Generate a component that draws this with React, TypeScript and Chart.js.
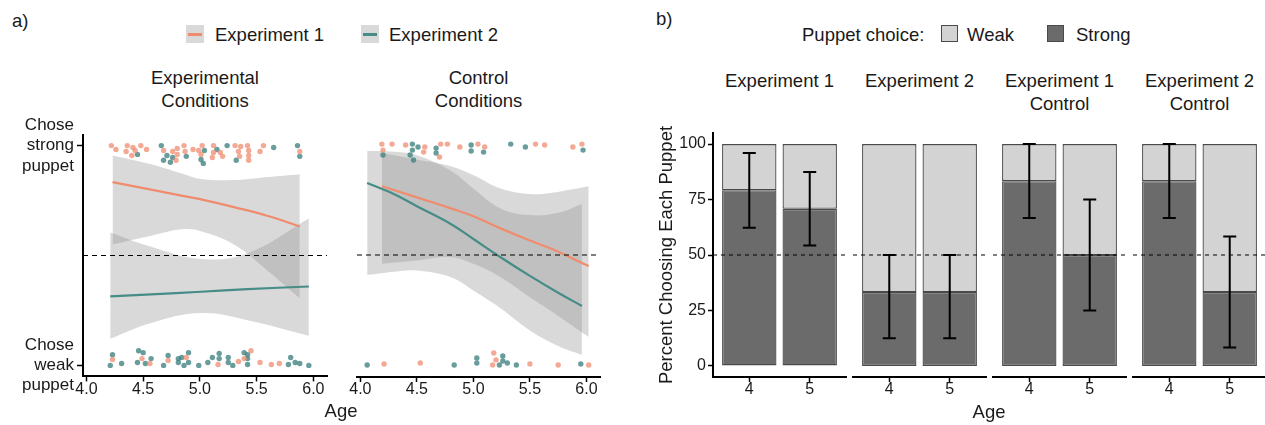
import React, { useEffect, useRef } from 'react';
import { Chart, registerables } from 'chart.js';

Chart.register(...registerables);

const FONT_FAMILY = "'Liberation Sans', Arial, Helvetica, sans-serif";
const TEXT_COLOR = '#1a1a1a';
Chart.defaults.font.family = FONT_FAMILY;

// ---------------- Panel a: choice by age ----------------
const AGE_TICKS = [4.0, 4.5, 5.0, 5.5, 6.0];
const AGE_MIN = 3.97;
const AGE_MAX = 6.12;
const CHOICE_MIN = -0.05;
const CHOICE_MAX = 1.05;
const CHOICE_TICKS = [0, 1];
const CHOICE_TICK_LABELS = [['Chose', 'weak', 'puppet'], ['Chose', 'strong', 'puppet']];
const CHANCE_CHOICE = 0.5;
const PANEL_A_FACETS = ['Experimental\nConditions', 'Control\nConditions'];
const PANEL_A_SERIES = ['Experiment 1', 'Experiment 2'];

type Pt = [number, number];

// Experimental conditions: jittered individual choices [age, choice]
const EXPT_E1_STRONG: Pt[] = [
  [4.22, 1.0], [4.26, 0.982], [4.36, 1.0], [4.35, 0.973], [4.40, 0.955], [4.41, 0.991], [4.43, 0.978],
  [4.48, 1.0], [4.53, 0.982], [4.68, 0.978], [4.76, 0.973], [4.80, 0.987], [4.80, 0.96], [4.79, 0.933],
  [4.86, 1.0], [4.87, 0.973], [4.94, 0.982], [4.99, 0.978], [5.02, 1.0], [5.01, 0.96], [5.12, 1.0],
  [5.12, 0.969], [5.11, 0.946], [5.18, 0.969], [5.20, 0.951], [5.31, 1.0], [5.34, 0.973], [5.36, 0.996],
  [5.42, 1.0], [5.43, 0.978], [5.35, 0.951], [5.43, 0.955], [5.43, 0.933], [5.56, 1.0], [5.53, 0.973],
  [5.88, 0.973],
];
const EXPT_E2_STRONG: Pt[] = [
  [4.45, 0.96], [4.66, 1.0], [4.71, 0.955], [4.68, 0.933], [4.74, 0.924], [4.76, 0.946], [4.88, 0.951],
  [5.04, 0.978], [5.01, 0.937], [5.03, 0.919], [5.15, 0.982], [5.24, 1.0], [5.32, 0.933], [5.65, 0.991],
  [5.86, 1.0], [5.88, 0.951],
];
const EXPT_E1_WEAK: Pt[] = [
  [4.23, 0.027], [4.49, 0.031], [4.56, 0.009], [4.72, 0.022], [4.88, 0.036], [5.16, 0.004], [5.34, 0.018],
  [5.45, 0.067], [5.39, 0.031], [5.53, 0.013], [5.63, 0.004], [5.70, 0.009],
];
const EXPT_E2_WEAK: Pt[] = [
  [4.23, 0.049], [4.21, 0.0], [4.31, 0.009], [4.46, 0.067], [4.50, 0.058], [4.45, 0.013], [4.57, 0.031],
  [4.52, 0.009], [4.72, 0.045], [4.68, 0.0], [4.81, 0.031], [4.84, 0.036], [4.90, 0.058], [4.90, 0.013],
  [4.81, 0.013], [4.86, 0.0], [4.99, 0.0], [5.07, 0.013], [5.11, 0.036], [5.17, 0.054], [5.17, 0.031],
  [5.25, 0.036], [5.25, 0.013], [5.29, 0.0], [5.39, 0.058], [5.42, 0.049], [5.42, 0.031], [5.42, 0.004],
  [5.80, 0.036], [5.78, 0.004], [5.84, 0.013], [5.88, 0.009], [5.96, 0.0],
];
// Control conditions
const CTRL_E1_STRONG: Pt[] = [
  [4.19, 1.0], [4.20, 0.973], [4.28, 1.0], [4.40, 0.996], [4.57, 0.987], [4.56, 0.964], [4.71, 1.0],
  [4.70, 0.942], [4.77, 1.0], [4.88, 0.987], [5.04, 1.0], [5.10, 0.987], [5.55, 1.0], [5.63, 0.996],
  [5.88, 0.987], [5.96, 1.0],
];
const CTRL_E2_STRONG: Pt[] = [
  [4.20, 0.951], [4.46, 1.0], [4.46, 0.973], [4.44, 0.951], [4.47, 0.928], [4.51, 0.987], [4.67, 0.982],
  [4.67, 0.96], [4.98, 0.996], [4.98, 0.969], [5.09, 0.964], [5.33, 1.0], [5.46, 0.987], [5.97, 0.973],
];
const CTRL_E1_WEAK: Pt[] = [
  [4.21, 0.009], [4.53, 0.013], [5.18, 0.058], [5.20, 0.027], [5.17, 0.004], [5.50, 0.009], [5.75, 0.004],
  [6.02, 0.004],
];
const CTRL_E2_WEAK: Pt[] = [
  [4.06, 0.004], [4.83, 0.004], [5.03, 0.036], [5.03, 0.013], [5.26, 0.045], [5.26, 0.022], [5.30, 0.013],
  [5.23, 0.004], [5.38, 0.004], [5.95, 0.009],
];

// Logistic fits with confidence bands
const EXPT_E1_AGE = [4.23, 4.57, 4.86, 5.01, 5.30, 5.60, 5.88];
const EXPT_E1_FIT = [0.834, 0.80, 0.77, 0.755, 0.72, 0.68, 0.632];
const EXPT_E1_UPPER = [0.955, 0.915, 0.87, 0.848, 0.843, 0.857, 0.87];
const EXPT_E1_LOWER = [0.55, 0.59, 0.62, 0.61, 0.55, 0.43, 0.305];

const EXPT_E2_AGE = [4.21, 4.57, 5.01, 5.42, 5.96];
const EXPT_E2_FIT = [0.314, 0.323, 0.335, 0.347, 0.359];
const EXPT_E2_UPPER = [0.605, 0.54, 0.484, 0.51, 0.668];
const EXPT_E2_LOWER = [0.121, 0.193, 0.238, 0.206, 0.135];

const CTRL_E1_AGE = [4.19, 4.50, 4.80, 5.00, 5.24, 5.50, 5.68, 6.02];
const CTRL_E1_FIT = [0.81, 0.76, 0.71, 0.675, 0.62, 0.565, 0.53, 0.45];
const CTRL_E1_UPPER = [0.96, 0.93, 0.90, 0.86, 0.80, 0.775, 0.78, 0.81];
const CTRL_E1_LOWER = [0.46, 0.475, 0.49, 0.46, 0.40, 0.31, 0.25, 0.13];

const CTRL_E2_AGE = [4.06, 4.30, 4.50, 4.80, 5.00, 5.24, 5.50, 5.75, 5.96];
const CTRL_E2_FIT = [0.825, 0.774, 0.72, 0.64, 0.572, 0.49, 0.406, 0.33, 0.27];
const CTRL_E2_UPPER = [0.97, 0.965, 0.95, 0.88, 0.80, 0.71, 0.68, 0.69, 0.73];
const CTRL_E2_LOWER = [0.41, 0.425, 0.43, 0.40, 0.34, 0.26, 0.16, 0.09, 0.05];

// ---------------- Panel b: percent choosing each puppet ----------------
const AGE_GROUPS = ['4', '5'];
const SLOT_MIN = 0.4;
const SLOT_MAX = 2.6;
const PCT_MIN = -5;
const PCT_MAX = 105;
const PCT_TICKS = [0, 25, 50, 75, 100];
const CHANCE_PCT = 50;
const PANEL_B_FACETS = ['Experiment 1', 'Experiment 2', 'Experiment 1\nControl', 'Experiment 2\nControl'];
const CHOICE_NAMES = ['Weak', 'Strong'];

const STRONG_EXP1 = [79.2, 70.8];
const STRONG_EXP2 = [33.3, 33.3];
const STRONG_EXP1_CTRL = [83.3, 50.0];
const STRONG_EXP2_CTRL = [83.3, 33.3];

const CI_LOW_EXP1 = [62.3, 54.3];
const CI_HIGH_EXP1 = [96.0, 87.4];
const CI_LOW_EXP2 = [12.5, 12.5];
const CI_HIGH_EXP2 = [50.0, 50.0];
const CI_LOW_EXP1_CTRL = [66.7, 25.0];
const CI_HIGH_EXP1_CTRL = [100.0, 75.0];
const CI_LOW_EXP2_CTRL = [66.7, 8.3];
const CI_HIGH_EXP2_CTRL = [100.0, 58.3];

// ---------------- styles ----------------
const BAND_FILL = 'rgba(144,144,144,0.34)';
const E1_LINE = '#F08C6E';
const E2_LINE = '#468C87';
const E1_DOT = 'rgba(240,145,118,0.78)';
const E2_DOT = 'rgba(62,130,127,0.78)';
const STRONG_FILL = '#6b6b6b';
const WEAK_FILL = '#d3d3d3';
const BAR_EDGE = '#4a4a4a';
const CURVE_TENSION = 0.4;

const toXY = (pts: Pt[]) => pts.map(([x, y]) => ({ x, y }));
const zipXY = (xs: number[], ys: number[]) => xs.map((x, i) => ({ x, y: ys[i] }));

const tickGrid = (len: number) => ({
  display: true,
  drawOnChartArea: false,
  drawTicks: true,
  tickLength: len,
  tickColor: '#000',
  tickWidth: 1.5,
  offset: false,
});
const axisBorder = { display: true, color: '#000', width: 2 };

type Pad = { left: number; right: number; top: number; bottom: number };
type Fit = { age: number[]; fit: number[]; upper: number[]; lower: number[] };

function agePanelConfig(p: {
  e1Strong: Pt[]; e1Weak: Pt[]; e2Strong: Pt[]; e2Weak: Pt[]; e1: Fit; e2: Fit; showY: boolean; pad: Pad;
}): any {
  const dots = (data: Pt[], color: string) => ({
    data: toXY(data), showLine: false, pointRadius: 2.7, pointHoverRadius: 2.7,
    pointBackgroundColor: color, pointBorderColor: 'rgba(0,0,0,0)', pointBorderWidth: 0,
    borderColor: 'rgba(0,0,0,0)', fill: false,
  });
  const fitLine = (f: Fit, color: string) => ({
    data: zipXY(f.age, f.fit), borderColor: color, borderWidth: 2.2, pointRadius: 0,
    tension: CURVE_TENSION, fill: false,
  });
  const band = (f: Fit, ys: number[], fillNext: boolean) => ({
    data: zipXY(f.age, ys), borderColor: 'rgba(0,0,0,0)', borderWidth: 1, pointRadius: 0,
    tension: CURVE_TENSION, fill: fillNext ? '+1' : false, backgroundColor: BAND_FILL,
  });
  return {
    type: 'line',
    data: {
      datasets: [
        dots(p.e1Strong, E1_DOT), dots(p.e1Weak, E1_DOT), dots(p.e2Strong, E2_DOT), dots(p.e2Weak, E2_DOT),
        {
          data: [{ x: AGE_MIN, y: CHANCE_CHOICE }, { x: AGE_MAX, y: CHANCE_CHOICE }],
          borderColor: '#000', borderWidth: 1.2, borderDash: [5, 4], pointRadius: 0, fill: false,
        },
        fitLine(p.e1, E1_LINE), fitLine(p.e2, E2_LINE),
        band(p.e1, p.e1.upper, true), band(p.e1, p.e1.lower, false),
        band(p.e2, p.e2.upper, true), band(p.e2, p.e2.lower, false),
      ],
    },
    options: {
      animation: false, responsive: false, events: [],
      layout: { padding: p.pad },
      plugins: { legend: { display: false }, tooltip: { enabled: false }, title: { display: false } },
      scales: {
        x: {
          type: 'linear', min: AGE_MIN, max: AGE_MAX,
          afterBuildTicks: (s: any) => { s.ticks = AGE_TICKS.map((v) => ({ value: v })); },
          afterFit: (s: any) => { s.height = 33; },
          ticks: {
            callback: (v: any) => Number(v).toFixed(1), color: TEXT_COLOR, padding: 0,
            font: { family: FONT_FAMILY, size: 16, lineHeight: 1.0 }, maxRotation: 0, autoSkip: false,
          },
          grid: tickGrid(5), border: axisBorder,
        },
        y: {
          type: 'linear', display: p.showY, min: CHOICE_MIN, max: CHOICE_MAX,
          afterBuildTicks: (s: any) => { s.ticks = CHOICE_TICKS.map((v) => ({ value: v })); },
          afterFit: (s: any) => { s.width = p.showY ? 83 : 0; },
          ticks: {
            callback: (_v: any, i: number) => CHOICE_TICK_LABELS[i], color: TEXT_COLOR, padding: 3,
            font: { family: FONT_FAMILY, size: 17, lineHeight: 1.2 }, autoSkip: false,
          },
          grid: tickGrid(6), border: axisBorder,
        },
      },
    },
  };
}

function errorBarPlugin(lo: number[], hi: number[]) {
  return {
    id: 'errorBars',
    afterDatasetsDraw(chart: any) {
      const { ctx, scales } = chart;
      ctx.save();
      ctx.strokeStyle = '#000';
      ctx.lineWidth = 2;
      lo.forEach((l, i) => {
        const px = scales.x.getPixelForValue(i + 1);
        const pl = scales.y.getPixelForValue(l);
        const ph = scales.y.getPixelForValue(hi[i]);
        ctx.beginPath();
        ctx.moveTo(px, pl); ctx.lineTo(px, ph);
        ctx.moveTo(px - 6.5, pl); ctx.lineTo(px + 6.5, pl);
        ctx.moveTo(px - 6.5, ph); ctx.lineTo(px + 6.5, ph);
        ctx.stroke();
      });
      ctx.restore();
    },
  };
}

function barFacetConfig(p: { strong: number[]; lo: number[]; hi: number[]; showY: boolean; pad: Pad }): any {
  const barStyle = {
    borderColor: BAR_EDGE, borderWidth: 1.3, borderSkipped: false,
    categoryPercentage: 1.0, barPercentage: 0.9, stack: 'choice',
  };
  return {
    type: 'bar',
    data: {
      datasets: [
        {
          type: 'line', order: 0,
          data: [{ x: SLOT_MIN, y: CHANCE_PCT }, { x: SLOT_MAX, y: CHANCE_PCT }],
          borderColor: '#000', borderWidth: 1, borderDash: [4, 4], pointRadius: 0, fill: false,
        },
        {
          label: CHOICE_NAMES[1], order: 1, ...barStyle, backgroundColor: STRONG_FILL,
          data: AGE_GROUPS.map((_, i) => ({ x: i + 1, y: p.strong[i] })),
        },
        {
          label: CHOICE_NAMES[0], order: 1, ...barStyle, backgroundColor: WEAK_FILL,
          data: AGE_GROUPS.map((_, i) => ({ x: i + 1, y: 100 - p.strong[i] })),
        },
      ],
    },
    plugins: [errorBarPlugin(p.lo, p.hi)],
    options: {
      animation: false, responsive: false, events: [],
      layout: { padding: p.pad },
      plugins: { legend: { display: false }, tooltip: { enabled: false }, title: { display: false } },
      scales: {
        x: {
          type: 'linear', min: SLOT_MIN, max: SLOT_MAX, offset: false, stacked: true,
          afterBuildTicks: (s: any) => { s.ticks = AGE_GROUPS.map((_, i) => ({ value: i + 1 })); },
          afterFit: (s: any) => { s.height = 33; },
          ticks: {
            callback: (_v: any, i: number) => AGE_GROUPS[i], color: TEXT_COLOR, padding: 0,
            font: { family: FONT_FAMILY, size: 16, lineHeight: 1.0 }, maxRotation: 0, autoSkip: false,
          },
          grid: tickGrid(5), border: axisBorder,
        },
        y: {
          type: 'linear', display: p.showY, min: PCT_MIN, max: PCT_MAX, stacked: true,
          afterBuildTicks: (s: any) => { s.ticks = PCT_TICKS.map((v) => ({ value: v })); },
          afterFit: (s: any) => { s.width = p.showY ? 57 : 0; },
          title: {
            display: true, text: 'Percent Choosing Each Puppet', color: TEXT_COLOR, padding: 0,
            font: { family: FONT_FAMILY, size: 18.5, lineHeight: 1.2 },
          },
          ticks: {
            color: TEXT_COLOR, padding: 2, autoSkip: false,
            font: { family: FONT_FAMILY, size: 16, lineHeight: 1.2 },
          },
          grid: tickGrid(5), border: axisBorder,
        },
      },
    },
  };
}

function ChartCanvas(props: { left: number; top: number; width: number; height: number; make: () => any }) {
  const ref = useRef<HTMLCanvasElement>(null);
  useEffect(() => {
    const chart = new Chart(ref.current as HTMLCanvasElement, props.make());
    return () => chart.destroy();
  }, []);
  return (
    <canvas
      ref={ref}
      width={props.width}
      height={props.height}
      style={{ position: 'absolute', left: props.left, top: props.top, width: props.width, height: props.height }}
    />
  );
}

function Label(props: { x: number; y: number; text: string; size?: number; lh?: number; center?: boolean }) {
  const size = props.size ?? 18.5;
  const lh = props.lh ?? 23;
  const center = props.center ?? true;
  const style: React.CSSProperties = {
    position: 'absolute', top: props.y - lh / 2, left: props.x, whiteSpace: 'pre',
    fontFamily: FONT_FAMILY, fontSize: size, lineHeight: `${lh}px`, color: TEXT_COLOR,
    textAlign: center ? 'center' : 'left', transform: center ? 'translateX(-50%)' : undefined,
  };
  return <div style={style}>{props.text}</div>;
}

function LineKey(props: { x: number; y: number; color: string }) {
  return (
    <div style={{ position: 'absolute', left: props.x, top: props.y, width: 18, height: 18, background: '#d9d9d9' }}>
      <div style={{ position: 'absolute', left: 2, right: 2, top: 8, height: 2.5, background: props.color }} />
    </div>
  );
}

function BoxKey(props: { x: number; y: number; color: string }) {
  return (
    <div style={{
      position: 'absolute', left: props.x, top: props.y, width: 17, height: 17, background: props.color,
      border: `1.3px solid ${BAR_EDGE}`, boxSizing: 'border-box',
    }} />
  );
}

const EXPT_E1: Fit = { age: EXPT_E1_AGE, fit: EXPT_E1_FIT, upper: EXPT_E1_UPPER, lower: EXPT_E1_LOWER };
const EXPT_E2: Fit = { age: EXPT_E2_AGE, fit: EXPT_E2_FIT, upper: EXPT_E2_UPPER, lower: EXPT_E2_LOWER };
const CTRL_E1: Fit = { age: CTRL_E1_AGE, fit: CTRL_E1_FIT, upper: CTRL_E1_UPPER, lower: CTRL_E1_LOWER };
const CTRL_E2: Fit = { age: CTRL_E2_AGE, fit: CTRL_E2_FIT, upper: CTRL_E2_UPPER, lower: CTRL_E2_LOWER };

const FACETS_B = [
  { strong: STRONG_EXP1, lo: CI_LOW_EXP1, hi: CI_HIGH_EXP1 },
  { strong: STRONG_EXP2, lo: CI_LOW_EXP2, hi: CI_HIGH_EXP2 },
  { strong: STRONG_EXP1_CTRL, lo: CI_LOW_EXP1_CTRL, hi: CI_HIGH_EXP1_CTRL },
  { strong: STRONG_EXP2_CTRL, lo: CI_LOW_EXP2_CTRL, hi: CI_HIGH_EXP2_CTRL },
];
const FACET_B_BOX = [
  { left: 656, width: 193, pad: { left: 0, right: 3, top: 23, bottom: 0 }, center: 779.5 },
  { left: 849, width: 140, pad: { left: 4, right: 3, top: 23, bottom: 0 }, center: 919.5 },
  { left: 989, width: 140, pad: { left: 4, right: 3, top: 23, bottom: 0 }, center: 1059.5 },
  { left: 1129, width: 140, pad: { left: 4, right: 3, top: 23, bottom: 0 }, center: 1199.5 },
];

export default function App() {
  return (
    <div style={{ position: 'absolute', left: 0, top: 0, width: 1265, height: 425, overflow: 'hidden', background: '#fff' }}>
      {/* Panel a */}
      <Label x={12} y={20} text="a)" size={18.5} center={false} />
      <LineKey x={186} y={25} color={E1_LINE} />
      <Label x={215} y={34} text={PANEL_A_SERIES[0]} center={false} />
      <LineKey x={361} y={25} color={E2_LINE} />
      <Label x={389} y={34} text={PANEL_A_SERIES[1]} center={false} />
      <Label x={205} y={77} text={PANEL_A_FACETS[0]} />
      <Label x={478.5} y={77} text={PANEL_A_FACETS[1]} />
      <ChartCanvas
        left={0} top={101} width={340} height={309}
        make={() => agePanelConfig({
          e1Strong: EXPT_E1_STRONG, e1Weak: EXPT_E1_WEAK, e2Strong: EXPT_E2_STRONG, e2Weak: EXPT_E2_WEAK,
          e1: EXPT_E1, e2: EXPT_E2, showY: true, pad: { left: 0, right: 13, top: 32, bottom: 0 },
        })}
      />
      <ChartCanvas
        left={340} top={101} width={280} height={309}
        make={() => agePanelConfig({
          e1Strong: CTRL_E1_STRONG, e1Weak: CTRL_E1_WEAK, e2Strong: CTRL_E2_STRONG, e2Weak: CTRL_E2_WEAK,
          e1: CTRL_E1, e2: CTRL_E2, showY: false, pad: { left: 17, right: 20, top: 32, bottom: 0 },
        })}
      />
      <Label x={341} y={410} text="Age" />

      {/* Panel b */}
      <Label x={656} y={18} text="b)" size={18.5} center={false} />
      <Label x={802} y={34} text="Puppet choice:" center={false} />
      <BoxKey x={941} y={25} color={WEAK_FILL} />
      <Label x={967} y={34} text={CHOICE_NAMES[0]} center={false} />
      <BoxKey x={1047} y={25} color={STRONG_FILL} />
      <Label x={1076} y={34} text={CHOICE_NAMES[1]} center={false} />
      {FACET_B_BOX.map((b, i) => (
        <Label key={'t' + i} x={b.center} y={80} text={PANEL_B_FACETS[i]} />
      ))}
      {FACET_B_BOX.map((b, i) => (
        <ChartCanvas
          key={'c' + i}
          left={b.left} top={110} width={b.width} height={300}
          make={() => barFacetConfig({ ...FACETS_B[i], showY: i === 0, pad: b.pad })}
        />
      ))}
      <Label x={989} y={411} text="Age" />
    </div>
  );
}
